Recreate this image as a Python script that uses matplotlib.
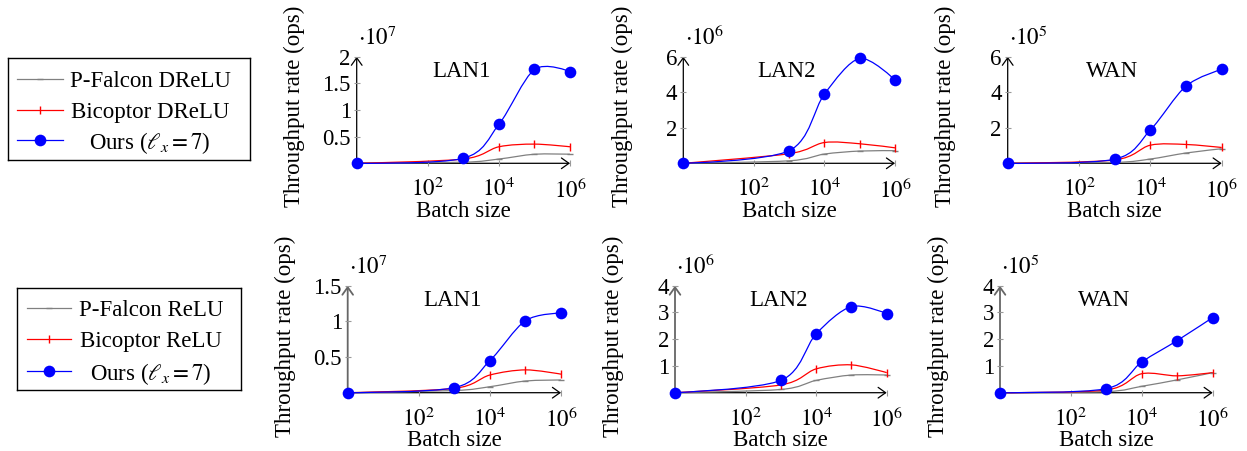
import numpy as np
import matplotlib
matplotlib.use("Agg")
import matplotlib.pyplot as plt
from matplotlib.path import Path
from matplotlib.patches import PathPatch
from matplotlib.lines import Line2D
from matplotlib.ticker import NullLocator, FuncFormatter

plt.rcParams['font.family'] = ['Liberation Serif', 'DejaVu Serif']
plt.rcParams['mathtext.fontset'] = 'stix'
FS = 16.5

# ---------------- data ----------------
batch = [1, 1e3, 1e4, 1e5, 1e6]
xtick_vals = [1e2, 1e4, 1e6]
xtick_labels = ['$10^{2}$', '$10^{4}$', '$10^{6}$']

panel_titles = ['LAN1', 'LAN2', 'WAN']

# DReLU (top row)
drelu_falcon_lan1 = [2e3, 0.2e6, 0.8e6, 1.7e6, 1.7e6]
drelu_bicoptor_lan1 = [3e3, 0.8e6, 3.1e6, 3.6e6, 3.1e6]
drelu_ours_lan1 = [3e3, 0.94e6, 7.3e6, 17.6e6, 17.2e6]

drelu_falcon_lan2 = [2e3, 0.14e6, 0.52e6, 0.69e6, 0.71e6]
drelu_bicoptor_lan2 = [3e3, 0.54e6, 1.17e6, 1.10e6, 0.87e6]
drelu_ours_lan2 = [3e3, 0.71e6, 3.9e6, 5.9e6, 4.69e6]

drelu_falcon_wan = [50, 0.05e5, 0.24e5, 0.58e5, 0.82e5]
drelu_bicoptor_wan = [100, 0.19e5, 1.02e5, 1.06e5, 0.89e5]
drelu_ours_wan = [100, 0.23e5, 1.875e5, 4.35e5, 5.29e5]

# ReLU (bottom row)
relu_falcon_lan1 = [2e3, 0.3e6, 0.84e6, 1.64e6, 1.78e6]
relu_bicoptor_lan1 = [3e3, 0.6e6, 2.48e6, 3.2e6, 2.6e6]
relu_ours_lan1 = [3e3, 0.7e6, 4.5e6, 10.1e6, 11.17e6]

relu_falcon_lan2 = [2e3, 0.12e6, 0.46e6, 0.66e6, 0.66e6]
relu_bicoptor_lan2 = [3e3, 0.29e6, 0.89e6, 1.04e6, 0.75e6]
relu_ours_lan2 = [3e3, 0.46e6, 2.2e6, 3.22e6, 2.96e6]

relu_falcon_wan = [50, 0.04e5, 0.24e5, 0.48e5, 0.75e5]
relu_bicoptor_wan = [100, 0.10e5, 0.71e5, 0.63e5, 0.75e5]
relu_ours_wan = [100, 0.15e5, 1.15e5, 1.95e5, 2.81e5]

# y ticks / limits / scale exponents
top_yticks = [[0.5e7, 1e7, 1.5e7, 2e7], [2e6, 4e6, 6e6], [2e5, 4e5, 6e5]]
top_ymax = [2e7, 6e6, 6e5]
top_exp = [7, 6, 5]
bot_yticks = [[0.5e7, 1e7, 1.5e7], [1e6, 2e6, 3e6, 4e6], [1e5, 2e5, 3e5, 4e5]]
bot_ymax = [1.5e7, 4e6, 4e5]
bot_exp = [7, 6, 5]

top_legend_labels = ['P-Falcon DReLU', 'Bicoptor DReLU', r'Ours ($\ell_x = 7$)']
bot_legend_labels = ['P-Falcon ReLU', 'Bicoptor ReLU', r'Ours ($\ell_x = 7$)']

GRAY = '#808080'
RED = '#ff0000'
BLUE = '#0000ff'

styles = [
    dict(color=GRAY, marker='_', ms=5, mew=1.0),
    dict(color=RED, marker='|', ms=5.5, mew=1.0),
    dict(color=BLUE, marker='o', ms=8.4, mew=0.0),
]

W, H = 1247, 451
fig = plt.figure(figsize=(W / 100, H / 100), dpi=100)


def px_axes(x0, x1, ytop, ybot):
    return fig.add_axes([x0 / W, 1 - ybot / H, (x1 - x0) / W, (ybot - ytop) / H])


def smooth_path(xs, ys, t=0.1526):
    P = np.column_stack([np.log10(np.asarray(xs, float)), np.asarray(ys, float)])
    n = len(P)
    verts = [P[0]]
    codes = [Path.MOVETO]
    for i in range(n - 1):
        c1 = P[0] if i == 0 else P[i] + t * (P[i + 1] - P[i - 1])
        c2 = P[n - 1] if i + 1 == n - 1 else P[i + 1] - t * (P[i + 2] - P[i])
        verts += [c1, c2, P[i + 1]]
        codes += [Path.CURVE4] * 3
    V = np.array(verts)
    V[:, 0] = 10 ** V[:, 0]
    return Path(V, codes)


def setup_panel(ax, series, title, yticks, ymax, exp, yaxis_color):
    ax.set_xscale('log')
    ax.set_xlim(1, 1e6)
    ax.set_ylim(0, ymax)
    for s in ax.spines.values():
        s.set_visible(False)
    ax.patch.set_alpha(0)
    ax.set_xticks(xtick_vals, labels=xtick_labels)
    ax.xaxis.set_minor_locator(NullLocator())
    ax.set_yticks(yticks)
    ax.yaxis.set_major_formatter(FuncFormatter(lambda v, p: '%g' % (v / 10 ** exp)))
    ax.tick_params(axis='both', direction='inout', length=4.5, width=0.8,
                   color='#999999', labelsize=FS)
    ax.tick_params(axis='x', pad=8.5)
    ax.tick_params(axis='y', pad=2)
    arr = dict(arrowstyle='->,head_length=0.45,head_width=0.32', mutation_scale=12,
               shrinkA=0, shrinkB=0)
    ax.annotate('', xy=(1, 0), xytext=(0, 0), xycoords='axes fraction',
                arrowprops=dict(arr, color='black', lw=0.9), zorder=1)
    ax.annotate('', xy=(0, 1), xytext=(0, 0), xycoords='axes fraction',
                arrowprops=dict(arr, color=yaxis_color, lw=0.9 if yaxis_color == 'black' else 1.3),
                zorder=1)
    for ys, st in zip(series, styles):
        ax.add_patch(PathPatch(smooth_path(batch, ys), fill=False, edgecolor=st['color'],
                               lw=0.9, clip_on=False, zorder=3))
        ax.plot(batch, ys, linestyle='none', marker=st['marker'], color=st['color'],
                ms=st['ms'], mew=st['mew'], clip_on=False, zorder=4)
    ax.text(0.49, 0.86, title, transform=ax.transAxes, ha='center', va='center', fontsize=FS)
    ax.annotate(r'$\cdot 10^{%d}$' % exp, xy=(0, 1), xycoords='axes fraction',
                xytext=(1, 5), textcoords='offset points', ha='left', va='bottom', fontsize=FS)
    ax.set_xlabel('Batch size', fontsize=FS)
    ax.xaxis.label.set_va('baseline')
    ax.xaxis.set_label_coords(0.5, -0.50)
    ax.set_ylabel('Throughput rate (ops)', fontsize=FS)
    ax.yaxis.label.set_va('center')
    ax.yaxis.set_label_coords(-0.29, 0.53)


top_series = [
    [drelu_falcon_lan1, drelu_bicoptor_lan1, drelu_ours_lan1],
    [drelu_falcon_lan2, drelu_bicoptor_lan2, drelu_ours_lan2],
    [drelu_falcon_wan, drelu_bicoptor_wan, drelu_ours_wan],
]
bot_series = [
    [relu_falcon_lan1, relu_bicoptor_lan1, relu_ours_lan1],
    [relu_falcon_lan2, relu_bicoptor_lan2, relu_ours_lan2],
    [relu_falcon_wan, relu_bicoptor_wan, relu_ours_wan],
]

top_pos = [(356.7, 570.0), (683.3, 895.0), (1007.7, 1221.7)]
bot_pos = [(347.7, 561.0), (675.0, 886.7), (1000.0, 1212.7)]

for i in range(3):
    ax = px_axes(top_pos[i][0], top_pos[i][1], 56.7, 163.3)
    setup_panel(ax, top_series[i], panel_titles[i], top_yticks[i], top_ymax[i], top_exp[i], 'black')
    ax = px_axes(bot_pos[i][0], bot_pos[i][1], 285.7, 392.7)
    setup_panel(ax, bot_series[i], panel_titles[i], bot_yticks[i], bot_ymax[i], bot_exp[i], '#666666')


def draw_legend(x0, x1, ytop, ybot, labels, key_x, text_x, rows):
    lax = px_axes(x0, x1, ytop, ybot)
    lax.set_xlim(0, 1)
    lax.set_ylim(0, 1)
    lax.set_xticks([])
    lax.set_yticks([])
    for s in lax.spines.values():
        s.set_linewidth(1.0)
        s.set_color('black')
    for lab, st, ry in zip(labels, styles, rows):
        lax.add_line(Line2D(key_x, [ry, ry], color=st['color'], lw=0.9))
        lax.add_line(Line2D([(key_x[0] + key_x[1]) / 2], [ry], color=st['color'],
                            marker=st['marker'], ms=st['ms'], mew=st['mew'], linestyle='none'))
        lax.text(text_x, ry, lab, ha='center', va='center_baseline', fontsize=FS)


draw_legend(8, 250, 58, 160, top_legend_labels, [0.037, 0.227], 0.587, [0.79, 0.49, 0.20])
draw_legend(17, 241, 288, 390, bot_legend_labels, [0.045, 0.241], 0.598, [0.80, 0.50, 0.19])

fig.savefig('out.png', dpi=100)
